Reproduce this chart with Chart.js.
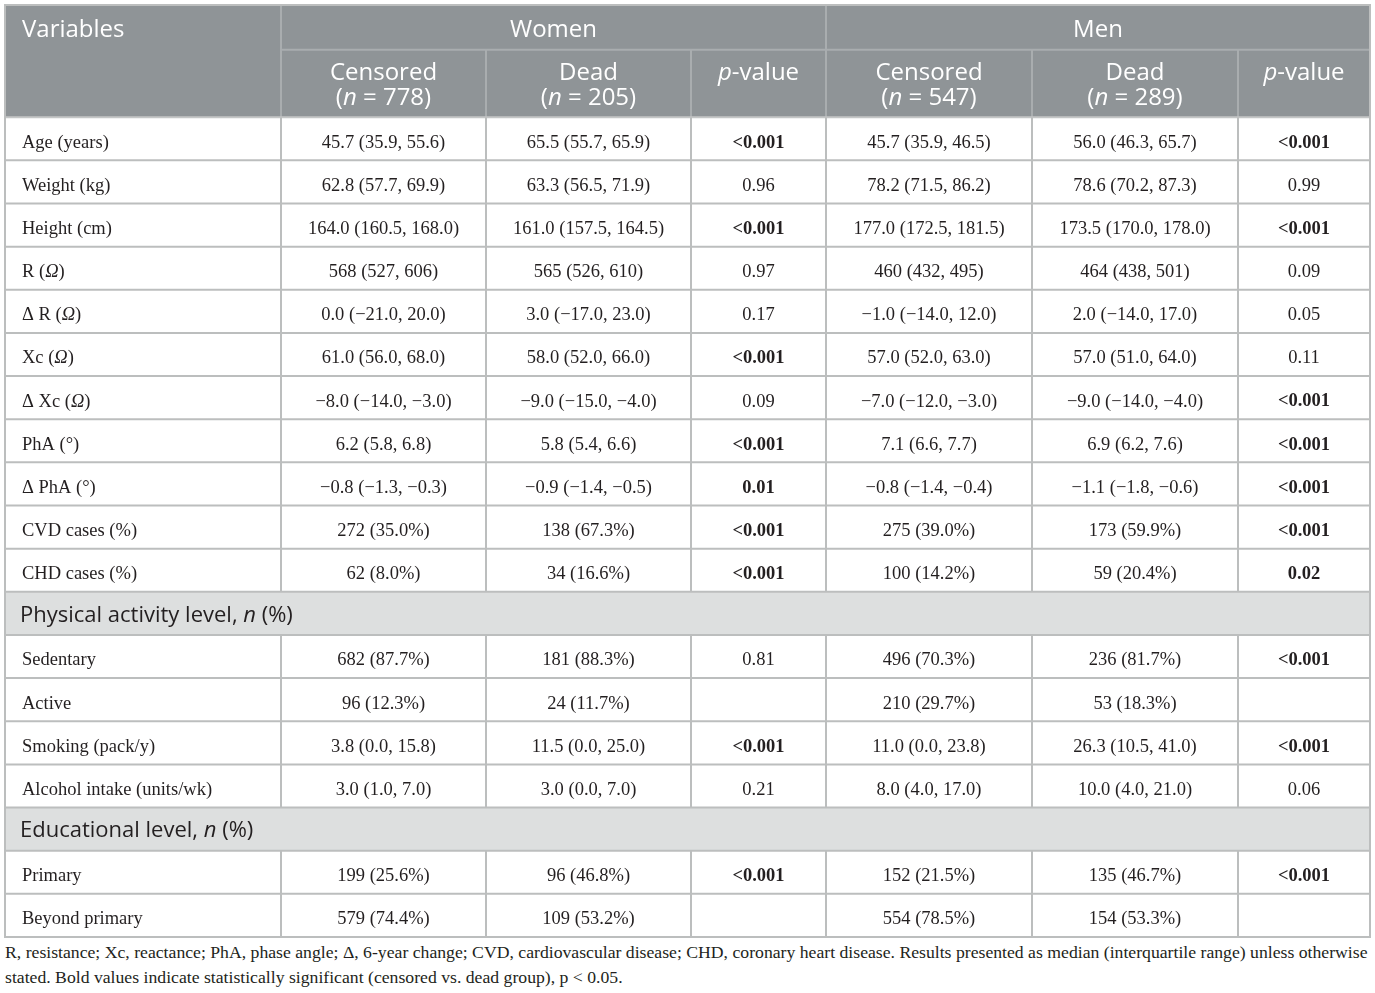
<!DOCTYPE html>
<html>
<head>
<meta charset="utf-8">
<title>Censored vs dead, by sex</title>
<script src="https://cdn.jsdelivr.net/npm/chart.js@4.4.1/dist/chart.umd.min.js"></script>
<style>
    html, body { margin: 0; padding: 0; background: #ffffff; }
    #wrap { position: relative; width: 1375px; height: 942px; }
    .note {
        font-family: "Liberation Serif", "DejaVu Serif", serif;
        font-size: 17.7px;
        color: #231f20;
        margin: -2px 0 0 5px;
        white-space: nowrap;
        line-height: 25px;
    }
</style>
</head>
<body>
<div id="wrap"><canvas id="tbl"></canvas></div>
<div class="note">R, resistance; Xc, reactance; PhA, phase angle; Δ, 6-year change; CVD, cardiovascular disease; CHD, coronary heart disease. Results presented as median (interquartile range) unless otherwise<br>stated. Bold values indicate statistically significant (censored vs. dead group), p &lt; 0.05.</div>

<script>
// ---- table data ----
// *...* marks italic text
const groups = ["Women", "Men"];
const subHeads = ["Censored", "Dead", "*p*-value"];
const womenN = [778, 205];
const menN = [547, 289];

const variables = [
    "Age (years)", "Weight (kg)", "Height (cm)", "R (*Ω*)", "Δ R (*Ω*)", "Xc (*Ω*)",
    "Δ Xc (*Ω*)", "PhA (°)", "Δ PhA (°)", "CVD cases (%)", "CHD cases (%)",
    "Physical activity level, *n* (%)",
    "Sedentary", "Active", "Smoking (pack/y)", "Alcohol intake (units/wk)",
    "Educational level, *n* (%)",
    "Primary", "Beyond primary"
];
const sectionRows = [11, 16];

const womenCensored = ["45.7 (35.9, 55.6)", "62.8 (57.7, 69.9)", "164.0 (160.5, 168.0)", "568 (527, 606)", "0.0 (−21.0, 20.0)", "61.0 (56.0, 68.0)", "−8.0 (−14.0, −3.0)", "6.2 (5.8, 6.8)", "−0.8 (−1.3, −0.3)", "272 (35.0%)", "62 (8.0%)", null, "682 (87.7%)", "96 (12.3%)", "3.8 (0.0, 15.8)", "3.0 (1.0, 7.0)", null, "199 (25.6%)", "579 (74.4%)"];
const womenDead = ["65.5 (55.7, 65.9)", "63.3 (56.5, 71.9)", "161.0 (157.5, 164.5)", "565 (526, 610)", "3.0 (−17.0, 23.0)", "58.0 (52.0, 66.0)", "−9.0 (−15.0, −4.0)", "5.8 (5.4, 6.6)", "−0.9 (−1.4, −0.5)", "138 (67.3%)", "34 (16.6%)", null, "181 (88.3%)", "24 (11.7%)", "11.5 (0.0, 25.0)", "3.0 (0.0, 7.0)", null, "96 (46.8%)", "109 (53.2%)"];
const womenP = ["<0.001", "0.96", "<0.001", "0.97", "0.17", "<0.001", "0.09", "<0.001", "0.01", "<0.001", "<0.001", null, "0.81", "", "<0.001", "0.21", null, "<0.001", ""];
const menCensored = ["45.7 (35.9, 46.5)", "78.2 (71.5, 86.2)", "177.0 (172.5, 181.5)", "460 (432, 495)", "−1.0 (−14.0, 12.0)", "57.0 (52.0, 63.0)", "−7.0 (−12.0, −3.0)", "7.1 (6.6, 7.7)", "−0.8 (−1.4, −0.4)", "275 (39.0%)", "100 (14.2%)", null, "496 (70.3%)", "210 (29.7%)", "11.0 (0.0, 23.8)", "8.0 (4.0, 17.0)", null, "152 (21.5%)", "554 (78.5%)"];
const menDead = ["56.0 (46.3, 65.7)", "78.6 (70.2, 87.3)", "173.5 (170.0, 178.0)", "464 (438, 501)", "2.0 (−14.0, 17.0)", "57.0 (51.0, 64.0)", "−9.0 (−14.0, −4.0)", "6.9 (6.2, 7.6)", "−1.1 (−1.8, −0.6)", "173 (59.9%)", "59 (20.4%)", null, "236 (81.7%)", "53 (18.3%)", "26.3 (10.5, 41.0)", "10.0 (4.0, 21.0)", null, "135 (46.7%)", "154 (53.3%)"];
const menP = ["<0.001", "0.99", "<0.001", "0.09", "0.05", "0.11", "<0.001", "<0.001", "<0.001", "<0.001", "0.02", null, "<0.001", "", "<0.001", "0.06", null, "<0.001", ""];

// ---- layout (x in table units, y in row units) ----
const colEdges = [0, 276, 481, 686, 821, 1027, 1233, 1365];
const head1 = 1.04, head2 = 1.56;
const headTotal = head1 + head2;

const HEAD_BG = "#8f9497";
const HEAD_LINE = "#a9adaf";
const SECTION_BG = "#dddfdf";
const GRID = "#bcbebe";
const INK = "#231f20";
const SANS = '"Open Sans", "Noto Sans", sans-serif';
const SERIF = '"Liberation Serif", "DejaVu Serif", serif';
const HEAD_SIZE = 24, SECTION_SIZE = 22, BODY_SIZE = 18.5;

const columns = [womenCensored, womenDead, womenP, menCensored, menDead, menP];
const isPCol = [false, false, true, false, false, true];
const significant = v => v && (v.startsWith("<") || parseFloat(v) < 0.05);

// one invisible point per filled cell, so every cell sits on the chart's scales
const cellPoints = [];
columns.forEach((col, c) => col.forEach((v, r) => {
    if (v) cellPoints.push({ x: (colEdges[c + 1] + colEdges[c + 2]) / 2, y: headTotal + r + 0.5, text: v, col: c });
}));

function drawRich(ctx, text, x, y, align, size, family, bold, color) {
    const segs = text.split("*");
    const fontFor = i => `${i % 2 ? "italic " : ""}${bold ? "bold " : ""}${size}px ${family}`;
    let w = 0;
    segs.forEach((s, i) => { ctx.font = fontFor(i); w += ctx.measureText(s).width; });
    let cx = align === "center" ? x - w / 2 : x;
    ctx.fillStyle = color;
    ctx.textAlign = "left";
    ctx.textBaseline = "middle";
    segs.forEach((s, i) => {
        ctx.font = fontFor(i);
        ctx.fillText(s, cx, y);
        cx += ctx.measureText(s).width;
    });
}

const tablePlugin = {
    id: "tableDraw",
    beforeDatasetsDraw(chart) {
        const ctx = chart.ctx;
        const X = v => chart.scales.x.getPixelForValue(v);
        const Y = v => chart.scales.y.getPixelForValue(v);
        const nRows = variables.length;
        const x0 = X(colEdges[0]), xN = X(colEdges[colEdges.length - 1]);
        const line = (ax, ay, bx, by, color) => {
            ctx.beginPath(); ctx.moveTo(ax, ay); ctx.lineTo(bx, by);
            ctx.strokeStyle = color; ctx.lineWidth = 2; ctx.stroke();
        };
        ctx.save();

        // header block
        ctx.fillStyle = HEAD_BG;
        ctx.fillRect(x0, Y(0), xN - x0, Y(headTotal) - Y(0));
        // section rows
        sectionRows.forEach(r => {
            ctx.fillStyle = SECTION_BG;
            ctx.fillRect(x0, Y(headTotal + r), xN - x0, Y(headTotal + r + 1) - Y(headTotal + r));
        });

        // header lines
        line(X(colEdges[1]), Y(0), X(colEdges[1]), Y(headTotal), HEAD_LINE);
        line(X(colEdges[4]), Y(0), X(colEdges[4]), Y(headTotal), HEAD_LINE);
        line(X(colEdges[1]), Y(head1), xN, Y(head1), HEAD_LINE);
        [2, 3, 5, 6].forEach(c => line(X(colEdges[c]), Y(head1), X(colEdges[c]), Y(headTotal), HEAD_LINE));

        // body lines
        for (let r = 1; r < nRows; r++) line(x0, Y(headTotal + r), xN, Y(headTotal + r), GRID);
        line(x0, Y(headTotal), xN, Y(headTotal), "#c4c6c6");
        for (let r = 0; r < nRows; r++) {
            if (sectionRows.includes(r)) continue;
            for (let c = 1; c < colEdges.length - 1; c++) {
                line(X(colEdges[c]), Y(headTotal + r), X(colEdges[c]), Y(headTotal + r + 1), GRID);
            }
        }
        // outer border
        ctx.strokeStyle = GRID; ctx.lineWidth = 2;
        ctx.strokeRect(x0, Y(0), xN - x0, Y(headTotal + nRows) - Y(0));

        // header text
        const hY1 = Y(head1 / 2) + 3;
        drawRich(ctx, "Variables", X(17), hY1, "left", HEAD_SIZE, SANS, false, "#ffffff");
        groups.forEach((g, gi) => {
            const a = colEdges[1 + gi * 3], b = colEdges[4 + gi * 3];
            drawRich(ctx, g, X((a + b) / 2), hY1, "center", HEAD_SIZE, SANS, false, "#ffffff");
            const ns = gi === 0 ? womenN : menN;
            subHeads.forEach((s, si) => {
                const c = 1 + gi * 3 + si;
                const cx = X((colEdges[c] + colEdges[c + 1]) / 2);
                const midY = Y(head1 + head2 / 2) + 2;
                drawRich(ctx, s, cx, midY - 12, "center", HEAD_SIZE, SANS, false, "#ffffff");
                if (si < 2) drawRich(ctx, `(*n* = ${ns[si]})`, cx, midY + 13, "center", HEAD_SIZE, SANS, false, "#ffffff");
            });
        });

        // row labels
        variables.forEach((v, r) => {
            const cy = Y(headTotal + r + 0.5);
            if (sectionRows.includes(r)) drawRich(ctx, v, X(15), cy + 2, "left", SECTION_SIZE, SANS, false, INK);
            else drawRich(ctx, v, X(17), cy + 4, "left", BODY_SIZE, SERIF, false, INK);
        });

        // cell values
        cellPoints.forEach(p => {
            const bold = isPCol[p.col] && significant(p.text);
            drawRich(ctx, p.text, X(p.x), Y(p.y) + 4, "center", BODY_SIZE, SERIF, bold, INK);
        });
        ctx.restore();
    }
};

new Chart(document.getElementById("tbl"), {
    type: "scatter",
    data: {
        datasets: [{
            label: "cells",
            data: cellPoints,
            pointRadius: 0,
            pointHoverRadius: 0
        }]
    },
    options: {
        responsive: true,
        maintainAspectRatio: false,
        animation: false,
        events: [],
        layout: { padding: { left: 5, right: 5, top: 5, bottom: 5 } },
        plugins: { legend: { display: false }, tooltip: { enabled: false } },
        scales: {
            x: { type: "linear", min: colEdges[0], max: colEdges[colEdges.length - 1], display: false },
            y: { type: "linear", min: 0, max: headTotal + variables.length, reverse: true, display: false }
        }
    },
    plugins: [tablePlugin]
});
</script>
</body>
</html>
